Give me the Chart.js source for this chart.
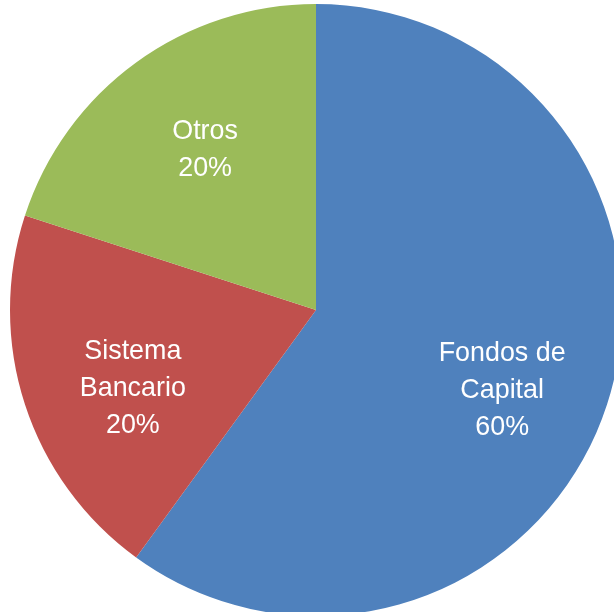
<!DOCTYPE html>
<html>
<head>
<meta charset="utf-8">
<script src="https://cdn.jsdelivr.net/npm/chart.js@4/dist/chart.umd.min.js"></script>
<style>
  html, body { margin: 0; padding: 0; background: #fff; overflow: hidden; }
  #wrap { position: absolute; left: 5px; top: 4px; width: 622px; height: 612px; }
</style>
</head>
<body>
<div id="wrap"><canvas id="pieChart" width="622" height="612"></canvas></div>
<script>
const categories = [["Fondos de", "Capital"], ["Sistema", "Bancario"], ["Otros"]];
const shares = [60, 20, 20];
const colors = ["#4F81BD", "#C0504D", "#9BBB59"];

// small per-label nudges so the text sits where Excel put it
const labelNudge = [[-3, 19], [6, 17], [6, 1]];

const sliceLabels = {
  id: "sliceLabels",
  afterDatasetsDraw(chart) {
    const ctx = chart.ctx;
    const meta = chart.getDatasetMeta(0);
    ctx.save();
    ctx.fillStyle = "#ffffff";
    ctx.font = "28px 'Liberation Sans Narrow', 'Arial Narrow', 'Liberation Sans', sans-serif";
    ctx.textAlign = "center";
    ctx.textBaseline = "middle";
    meta.data.forEach((arc, i) => {
      const p = arc.getProps(["x", "y", "startAngle", "endAngle", "outerRadius"], true);
      const mid = (p.startAngle + p.endAngle) / 2;
      const r = p.outerRadius * 0.65;
      const cx = p.x + Math.cos(mid) * r + labelNudge[i][0];
      const cy = p.y + Math.sin(mid) * r + labelNudge[i][1];
      const lines = categories[i].concat([shares[i] + "%"]);
      const lh = 37;
      const y0 = cy - (lines.length - 1) * lh / 2;
      lines.forEach((t, j) => {
        ctx.save();
        ctx.translate(cx, y0 + j * lh);
        ctx.scale(0.96, 1);
        ctx.fillText(t, 0, 0);
        ctx.restore();
      });
    });
    ctx.restore();
  }
};

new Chart(document.getElementById("pieChart"), {
  type: "pie",
  data: {
    labels: categories.map((c) => c.join(" ")),
    datasets: [
      {
        data: shares,
        backgroundColor: colors,
        borderWidth: 0,
      },
    ],
  },
  options: {
    responsive: false,
    animation: false,
    layout: { padding: 0 },
    plugins: {
      legend: { display: false },
      tooltip: { enabled: false },
    },
  },
  plugins: [sliceLabels],
});
</script>
</body>
</html>
